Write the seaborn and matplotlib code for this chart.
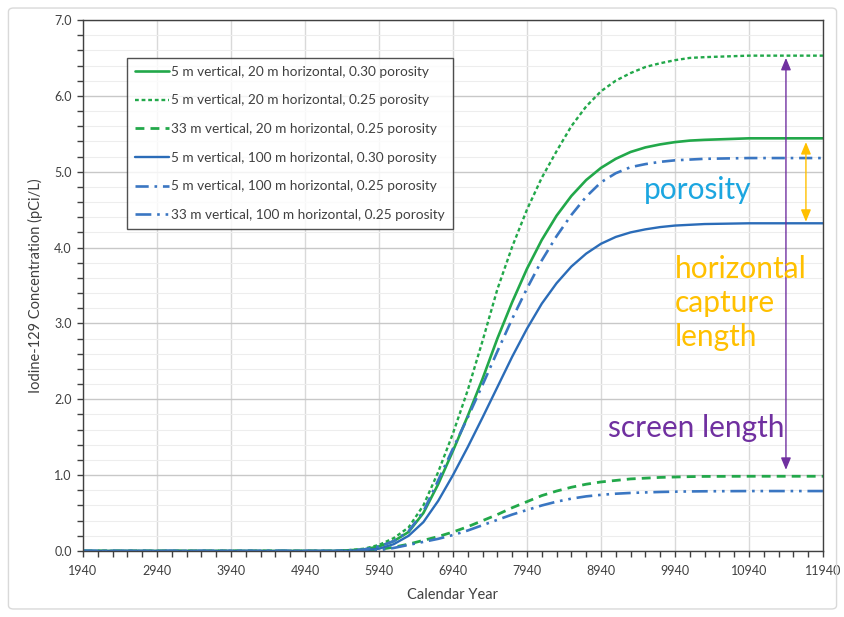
import matplotlib
matplotlib.use("Agg")
import matplotlib.pyplot as plt
from matplotlib.ticker import FixedLocator, FormatStrFormatter, MultipleLocator
from matplotlib.patches import FancyBboxPatch
import seaborn as sns
import pandas as pd

# Calendar years at which the concentrations are tabulated
years = [1940, 5340, 5540, 5740, 5940, 6140, 6340, 6540, 6740, 6940, 7140, 7340,
         7540, 7740, 7940, 8140, 8340, 8540, 8740, 8940, 9140, 9340, 9540, 9740,
         9940, 10140, 10340, 10940, 11440, 11940]

# Iodine-129 concentration (pCi/L) for each well-screen scenario
v5_h20_p30 = [0, 0, 0.01, 0.02, 0.06, 0.13, 0.25, 0.50, 0.88, 1.32, 1.78, 2.27,
              2.80, 3.28, 3.72, 4.10, 4.42, 4.68, 4.89, 5.05, 5.17, 5.26, 5.32, 5.36,
              5.39, 5.41, 5.42, 5.44, 5.44, 5.44]
v5_h20_p25 = [0, 0, 0.01, 0.03, 0.08, 0.17, 0.31, 0.60, 1.04, 1.55, 2.12, 2.77,
              3.45, 4.01, 4.50, 4.92, 5.27, 5.60, 5.86, 6.06, 6.20, 6.30, 6.38, 6.43,
              6.47, 6.50, 6.51, 6.53, 6.53, 6.53]
v33_h20_p25 = [0, 0, 0, 0, 0.02, 0.05, 0.09, 0.14, 0.19, 0.25, 0.32, 0.40,
               0.48, 0.57, 0.65, 0.73, 0.79, 0.84, 0.88, 0.91, 0.93, 0.95, 0.96, 0.97,
               0.975, 0.98, 0.983, 0.985, 0.985, 0.985]
v5_h100_p30 = [0, 0, 0, 0.01, 0.03, 0.09, 0.20, 0.38, 0.66, 1.00, 1.37, 1.76,
               2.16, 2.56, 2.93, 3.26, 3.53, 3.75, 3.92, 4.05, 4.14, 4.20, 4.24, 4.27,
               4.29, 4.30, 4.31, 4.32, 4.32, 4.32]
v5_h100_p25 = [0, 0, 0.01, 0.02, 0.06, 0.13, 0.26, 0.52, 0.93, 1.35, 1.76, 2.19,
               2.63, 3.06, 3.46, 3.83, 4.15, 4.43, 4.67, 4.86, 4.98, 5.06, 5.10, 5.13,
               5.15, 5.16, 5.17, 5.18, 5.18, 5.18]
v33_h100_p25 = [0, 0, 0, 0, 0.01, 0.04, 0.08, 0.12, 0.16, 0.21, 0.27, 0.34,
                0.41, 0.48, 0.54, 0.60, 0.65, 0.69, 0.72, 0.74, 0.755, 0.765, 0.772,
                0.778, 0.782, 0.785, 0.787, 0.79, 0.79, 0.79]

labels = [
    "5 m vertical, 20 m horizontal, 0.30 porosity",
    "5 m vertical, 20 m horizontal, 0.25 porosity",
    "33 m vertical, 20 m horizontal, 0.25 porosity",
    "5 m vertical, 100 m horizontal, 0.30 porosity",
    "5 m vertical, 100 m horizontal, 0.25 porosity",
    "33 m vertical, 100 m horizontal, 0.25 porosity",
]
series = [v5_h20_p30, v5_h20_p25, v33_h20_p25, v5_h100_p30, v5_h100_p25, v33_h100_p25]

x_ticks = [1940, 2940, 3940, 4940, 5940, 6940, 7940, 8940, 9940, 10940, 11940]

GREEN = "#22a84a"
BLUE = "#2b6cb8"
BLUE_LT = "#3a76c2"
styles = [
    dict(color=GREEN, linestyle="-", linewidth=1.9),
    dict(color=GREEN, linestyle=(0, (1.6, 1.2)), linewidth=1.7),
    dict(color=GREEN, linestyle=(0, (3.2, 2.2)), linewidth=2.0),
    dict(color=BLUE, linestyle="-", linewidth=1.7),
    dict(color=BLUE_LT, linestyle=(0, (5, 2.2, 1, 2.2)), linewidth=1.9),
    dict(color=BLUE_LT, linestyle=(0, (6, 2.2, 1, 2.2, 1, 2.2)), linewidth=1.9),
]

sns.set_theme(style="white")
plt.rcParams["font.family"] = ["Lato", "DejaVu Sans"]

fig = plt.figure(figsize=(8.45, 6.17), dpi=100)
fig.patch.set_facecolor("white")
fig.patches.append(FancyBboxPatch((0.010, 0.013), 0.980, 0.974,
                                  boxstyle="round,pad=0,rounding_size=0.006",
                                  transform=fig.transFigure, facecolor="none",
                                  edgecolor="#d9d9d9", linewidth=1.0))
ax = fig.add_axes([0.0982, 0.107, 0.8757, 0.8606])

for vals, lab, st in zip(series, labels, styles):
    df = pd.DataFrame({"year": years, "conc": vals})
    sns.lineplot(data=df, x="year", y="conc", ax=ax, label=lab, **st)

ax.set_xlim(1940, 11940)
ax.set_ylim(0, 7.0)
ax.xaxis.set_major_locator(FixedLocator(x_ticks))
ax.xaxis.set_minor_locator(FixedLocator(list(range(1940, 11941, 200))))
ax.yaxis.set_major_locator(MultipleLocator(1.0))
ax.yaxis.set_minor_locator(MultipleLocator(0.2))
ax.yaxis.set_major_formatter(FormatStrFormatter("%.1f"))

ax.grid(which="major", axis="x", color="#d9d9d9", linewidth=1.0)
ax.grid(which="major", axis="y", color="#c8c8c8", linewidth=1.0)
ax.grid(which="minor", axis="y", color="#ededed", linewidth=0.8)
ax.set_axisbelow(True)

for sp in ax.spines.values():
    sp.set_visible(True)
    sp.set_color("#404040")
    sp.set_linewidth(1.0)

ax.tick_params(which="both", direction="out", color="#404040", labelsize=9,
               labelcolor="#404040")
ax.tick_params(which="major", length=4, width=1)
ax.tick_params(which="minor", length=4, width=1)
ax.tick_params(axis="x", which="both", bottom=True, pad=6)
ax.tick_params(axis="y", which="both", left=True, pad=4)

ax.set_xlabel("Calendar Year", fontsize=10.5, color="#404040", labelpad=8)
ax.set_ylabel("Iodine-129 Concentration (pCi/L)", fontsize=10.5, color="#404040",
              labelpad=8)

leg = ax.legend(loc="upper left", bbox_to_anchor=(0.059, 0.929), borderaxespad=0,
                fontsize=9.8, frameon=True, fancybox=False, labelspacing=1.22,
                handlelength=2.5, handletextpad=0.15, borderpad=0.6)
leg.get_frame().set_edgecolor("#262626")
leg.get_frame().set_linewidth(1.0)
for t in leg.get_texts():
    t.set_color("#404040")

# Annotations explaining the spread between scenarios
PURPLE = "#7030a0"
ORANGE = "#ffc000"
ax.annotate("", xy=(11440, 6.50), xytext=(11440, 1.07),
            arrowprops=dict(arrowstyle="<|-|>,head_length=0.6,head_width=0.25",
                            color=PURPLE, lw=1.0, shrinkA=0, shrinkB=0))
ax.annotate("", xy=(11710, 5.39), xytext=(11710, 4.34),
            arrowprops=dict(arrowstyle="<|-|>,head_length=0.6,head_width=0.25",
                            color=ORANGE, lw=1.0, shrinkA=0, shrinkB=0))
ax.text(9521, 4.76, "porosity", color="#1ca6e0", fontsize=21.5, va="center", ha="left")
ax.text(9940, 3.27, "horizontal\ncapture\nlength", color=ORANGE, fontsize=21.5,
        va="center", ha="left", linespacing=1.25)
ax.text(9035, 1.62, "screen length", color=PURPLE, fontsize=21.5, va="center", ha="left")

fig.savefig("out.png", dpi=100, facecolor="white")
